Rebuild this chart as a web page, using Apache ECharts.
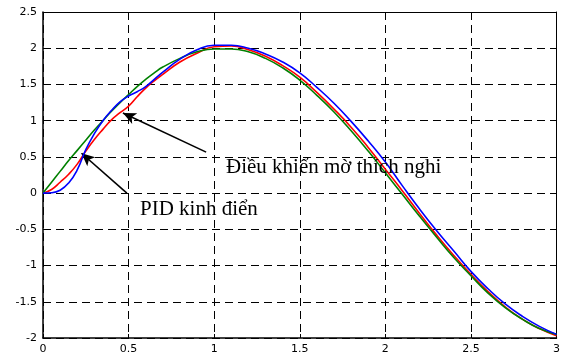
<!DOCTYPE html>
<html>
<head>
<meta charset="utf-8">
<script src="https://cdn.jsdelivr.net/npm/echarts@6/dist/echarts.min.js"></script>
<style>
html, body { margin: 0; padding: 0; background: #fff; }
#chart { width: 563px; height: 358px; }
</style>
</head>
<body>
<div id="chart"></div>
<script>
// time samples (s)
var t = [0, 0.05, 0.1, 0.15, 0.2, 0.25, 0.3, 0.35, 0.4, 0.45, 0.5, 0.55, 0.6, 0.65, 0.7,
         0.8, 0.9, 1.0, 1.1, 1.2, 1.3, 1.4, 1.5, 1.6, 1.7, 1.8, 1.9, 2.0,
         2.1, 2.2, 2.3, 2.4, 2.5, 2.6, 2.7, 2.8, 2.9, 3.0];
// reference
var green = [0, 0.15, 0.30, 0.45, 0.59, 0.73, 0.87, 1.00, 1.13, 1.25, 1.36, 1.47, 1.57, 1.66, 1.74,
             1.86, 1.95, 1.99, 1.99, 1.95, 1.86, 1.73, 1.56, 1.35, 1.12, 0.86, 0.58, 0.28,
             -0.02, -0.32, -0.61, -0.89, -1.14, -1.38, -1.58, -1.74, -1.87, -1.95];
// PID kinh dien
var red = [0, 0.05, 0.15, 0.26, 0.40, 0.58, 0.74, 0.88, 1.01, 1.11, 1.20, 1.33, 1.45, 1.55, 1.64,
           1.81, 1.93, 2.02, 2.03, 1.98, 1.89, 1.76, 1.60, 1.39, 1.16, 0.91, 0.63, 0.33,
           0.03, -0.28, -0.58, -0.86, -1.12, -1.36, -1.57, -1.74, -1.87, -1.97];
// dieu khien mo thich nghi
var blue = [0, 0.005, 0.04, 0.14, 0.32, 0.60, 0.82, 1.00, 1.14, 1.26, 1.34, 1.40, 1.47, 1.57, 1.67,
            1.85, 1.98, 2.04, 2.04, 2.00, 1.92, 1.81, 1.66, 1.46, 1.24, 0.99, 0.72, 0.43,
            0.10, -0.22, -0.52, -0.80, -1.08, -1.32, -1.53, -1.70, -1.84, -1.95];

var xTicks = [0, 0.5, 1, 1.5, 2, 2.5, 3];
var yTicks = [-2, -1.5, -1, -0.5, 0, 0.5, 1, 1.5, 2, 2.5];

// annotation arrows: [tail, head] in data units
var arrows = [
    [[0.953, 0.566], [0.467, 1.105]],
    [[0.49, 0.0], [0.225, 0.55]]
];

function pairs(ys) {
    return t.map(function (x, i) { return [x, ys[i]]; });
}

var chart = echarts.init(document.getElementById('chart'));

var gridDash = { color: '#000', width: 1, type: [8, 5] };
var labelFont = { color: '#000', fontFamily: 'DejaVu Sans', fontSize: 11 };

var option = {
    animation: false,
    backgroundColor: '#fff',
    grid: { left: 43, right: 3, top: 12, bottom: 20, containLabel: false },
    xAxis: [{
        type: 'value',
        min: xTicks[0], max: xTicks[xTicks.length - 1], interval: 0.5,
        axisLine: { onZero: false, lineStyle: { color: '#000', width: 1.5 } },
        axisTick: { inside: true, length: 4, lineStyle: { color: '#000' } },
        axisLabel: Object.assign({ margin: 6, showMaxLabel: true }, labelFont),
        splitLine: { show: true, lineStyle: gridDash }
    }, {
        type: 'value', position: 'top',
        min: xTicks[0], max: xTicks[xTicks.length - 1], interval: 0.5,
        axisLine: { show: true, onZero: false, lineStyle: { color: '#000', width: 1 } },
        axisTick: { inside: true, length: 4, lineStyle: { color: '#000' } },
        axisLabel: { show: false },
        splitLine: { show: false }
    }],
    yAxis: [{
        type: 'value',
        min: yTicks[0], max: yTicks[yTicks.length - 1], interval: 0.5,
        axisLine: { show: true, onZero: false, lineStyle: { color: '#000', width: 1.5 } },
        axisTick: { show: true, inside: true, length: 4, lineStyle: { color: '#000' } },
        axisLabel: Object.assign({ margin: 6 }, labelFont),
        splitLine: { show: true, lineStyle: gridDash }
    }, {
        type: 'value', position: 'right',
        min: yTicks[0], max: yTicks[yTicks.length - 1], interval: 0.5,
        axisLine: { show: true, onZero: false, lineStyle: { color: '#000', width: 1 } },
        axisTick: { show: true, inside: true, length: 4, lineStyle: { color: '#000' } },
        axisLabel: { show: false },
        splitLine: { show: false }
    }],
    series: [
        {
            name: 'PID', type: 'line', data: pairs(red), showSymbol: false, smooth: true,
            lineStyle: { color: '#ff0000', width: 1.6 }, z: 3
        },
        {
            name: 'ref', type: 'line', data: pairs(green), showSymbol: false, smooth: true,
            lineStyle: { color: '#008000', width: 1.6 }, z: 4
        },
        {
            name: 'fuzzy', type: 'line', data: pairs(blue), showSymbol: false, smooth: true,
            lineStyle: { color: '#0000ff', width: 1.6 }, z: 5,
            markLine: {
                silent: true,
                symbol: ['none', 'arrow'],
                symbolSize: [9, 13],
                label: { show: false },
                lineStyle: { color: '#000', width: 1.6, type: 'solid' },
                data: arrows.map(function (a) {
                    return [{ coord: a[0] }, { coord: a[1] }];
                })
            }
        }
    ],
    graphic: [
        {
            type: 'text', left: 226, top: 157, z: 10,
            style: { text: 'Điều khiển mờ thích nghi', fill: '#000',
                     font: '21px "Liberation Serif"' }
        },
        {
            type: 'text', left: 140, top: 199, z: 10,
            style: { text: 'PID kinh điển', fill: '#000',
                     font: '21px "Liberation Serif"' }
        }
    ]
};
chart.setOption(option);
</script>
</body>
</html>
